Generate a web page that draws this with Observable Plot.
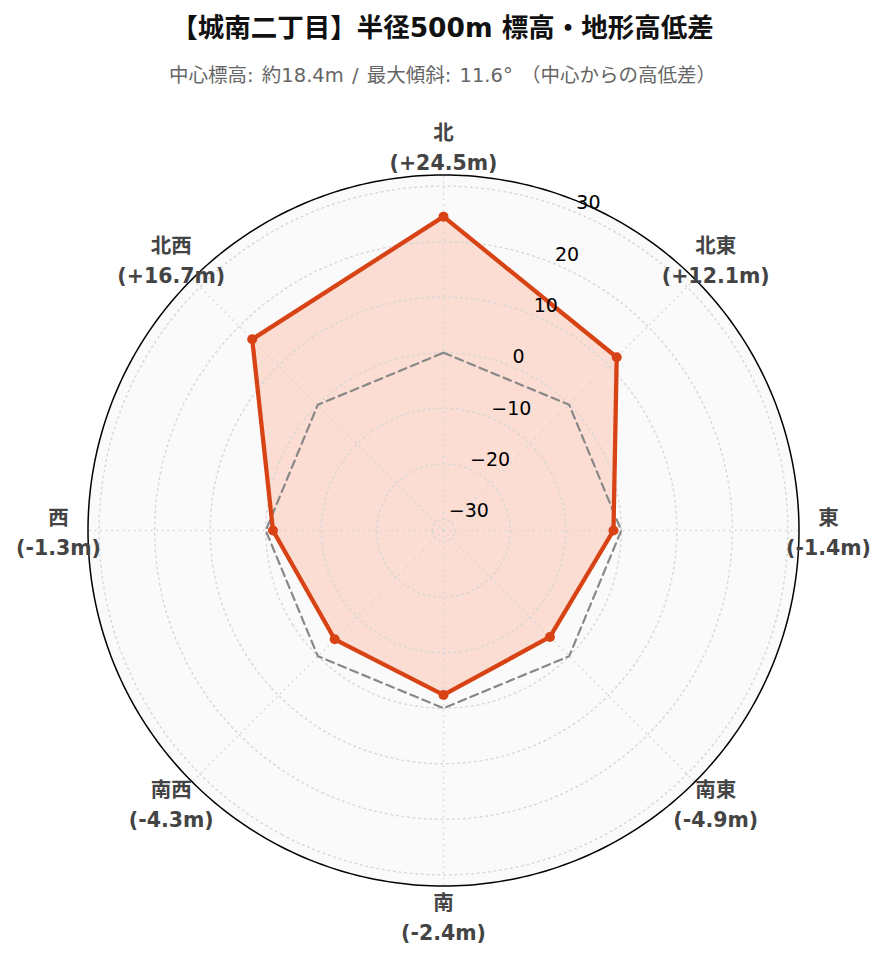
<!DOCTYPE html>
<html><head><meta charset="utf-8">
<script src="https://cdn.jsdelivr.net/npm/d3@7"></script>
<script src="https://cdn.jsdelivr.net/npm/@observablehq/plot@0.6"></script>
<style>
body{margin:0;background:#fff;}
#wrap{position:relative;width:885px;height:962px;}
#chart{position:absolute;left:0;top:0;}
#title{position:absolute;left:0;width:885px;top:13px;text-align:center;font-weight:bold;font-size:26.5px;font-family:"DejaVu Sans","Noto Sans CJK JP",sans-serif;color:#111;line-height:30px;}
#subtitle{position:absolute;left:0;width:885px;top:64px;text-align:center;font-size:19.5px;font-family:"DejaVu Sans","Noto Sans CJK JP",sans-serif;color:#666;line-height:24px;word-spacing:2px;}
</style></head><body>
<div id="wrap"><div id="chart"></div>
<div id="title">【城南二丁目】半径500m 標高・地形高低差</div>
<div id="subtitle">中心標高: 約18.4m / 最大傾斜: 11.6° （中心からの高低差）</div>
</div>
<script>
const directions = ["北","北東","東","南東","南","南西","西","北西"];
const bearings = [0,45,90,135,180,225,270,315];
const elevDiff = [24.5,12.1,-1.4,-4.9,-2.4,-4.3,-1.3,16.7];
const referenceLevel = [0,0,0,0,0,0,0,0];
const radialTicks = [-30,-20,-10,0,10,20,30];
const radialRange = [-32,32];
const tickBearing = 22.5;

const R = 64;
const rad = d3.scaleLinear(radialRange, [0, R]);
const lon = b => 180 - b;
const lat = v => 90 - rad(v);
const labelDist = R * 1.083;
const circle = r => d3.geoCircle().center([0,90]).radius(r).precision(1)();

const pts = directions.map((name,i)=>({name, bearing: bearings[i], value: elevDiff[i]}));
const zero = directions.map((name,i)=>({bearing: bearings[i], value: referenceLevel[i]}));
const fmt = v => (v > 0 ? "+" : "") + v.toFixed(1) + "m";
const tickFmt = v => v < 0 ? "\u2212" + Math.abs(v) : String(v);

const plot = Plot.plot({
  width: 885, height: 962,
  marginLeft: 87.5, marginRight: 86.5, marginTop: 174.5, marginBottom: 76.5,
  style: {fontFamily: "'DejaVu Sans','Noto Sans CJK JP',sans-serif", background: "transparent", overflow: "visible"},
  projection: {type: "azimuthal-equidistant", rotate: [0, -90], domain: circle(R), clip: false},
  marks: [
    Plot.geo([R], {geometry: r => circle(r), fill: "#fafafa", stroke: "none"}),
    Plot.line(pts, {x: d => lon(d.bearing), y: d => lat(d.value), curve: "linear-closed", fill: "#ff5722", fillOpacity: 0.18, stroke: "none"}),
    Plot.geo(radialTicks, {geometry: v => circle(rad(v)), fill: "none", stroke: "#d6d6d6", strokeWidth: 1.4, strokeDasharray: "1.6,4"}),
    Plot.link(bearings, {x1: b => lon(b), y1: lat(radialRange[0]), x2: b => lon(b), y2: lat(radialRange[1]), curve: "linear", stroke: "#d6d6d6", strokeWidth: 1.4, strokeDasharray: "1.6,4"}),
    Plot.geo([R], {geometry: r => circle(r), fill: "none", stroke: "#000", strokeWidth: 1.5}),
    Plot.line(zero, {x: d => lon(d.bearing), y: d => lat(d.value), curve: "linear-closed", stroke: "#888", strokeWidth: 2.2, strokeDasharray: "8,5"}),
    Plot.line(pts, {x: d => lon(d.bearing), y: d => lat(d.value), curve: "linear-closed", stroke: "#d84315", strokeWidth: 4.3, strokeLinejoin: "round"}),
    Plot.dot(pts, {x: d => lon(d.bearing), y: d => lat(d.value), r: 5, fill: "#d84315", stroke: "none"}),
    Plot.text(radialTicks, {x: lon(tickBearing), y: v => lat(v), text: tickFmt, textAnchor: "start", dx: 1, dy: -9, fontSize: 19, fill: "#000"}),
    Plot.text(pts, {x: d => lon(d.bearing), y: 90 - labelDist, text: d => `${d.name}\n(${fmt(d.value)})`, fontSize: 20.5, fontWeight: "bold", fill: "#444", lineHeight: 1.45})
  ]
});
document.getElementById("chart").appendChild(plot);
</script>
</body></html>
